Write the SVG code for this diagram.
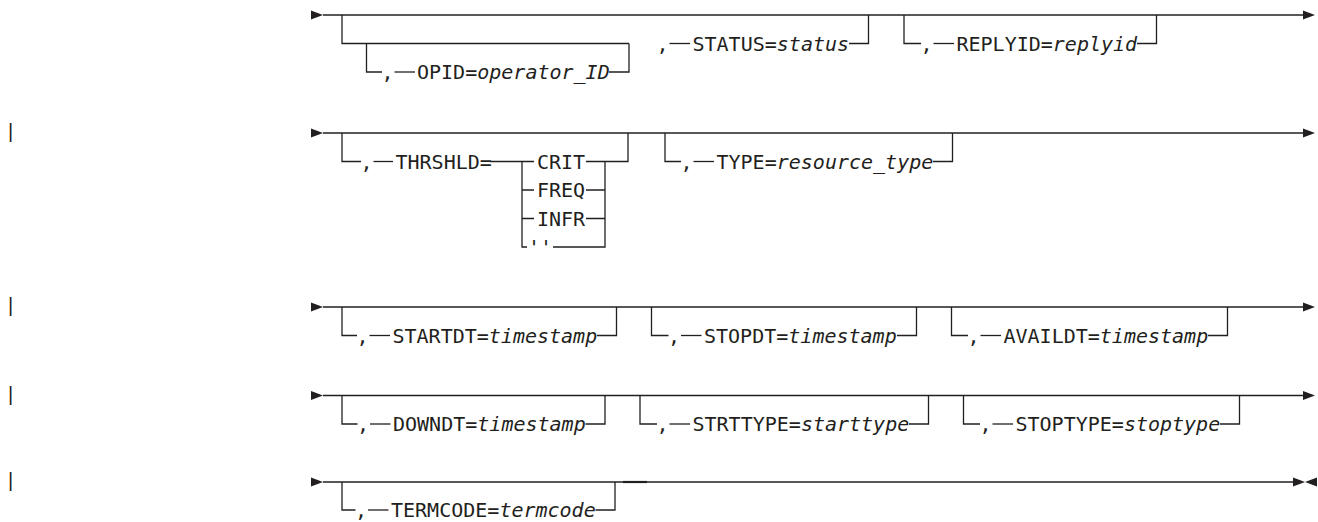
<svg xmlns="http://www.w3.org/2000/svg" width="1318" height="522" viewBox="0 0 1318 522">
<style>
.t{font-family:"DejaVu Sans Mono","Liberation Mono",monospace;font-size:20px;fill:#231f20}
.v{font-style:italic}
.l{stroke:#231f20;stroke-width:1.3;fill:none}
.a{fill:#231f20}
.bar{font-family:"Liberation Sans",Arial,sans-serif;font-size:20px;fill:#231f20}
</style>
<rect width="1318" height="522" fill="#fff"/>
<g id="revision-bars">
<text class="bar" x="10.5" y="138" text-anchor="middle">|</text>
<text class="bar" x="10.5" y="312" text-anchor="middle">|</text>
<text class="bar" x="10.5" y="400.5" text-anchor="middle">|</text>
<text class="bar" x="10.5" y="487" text-anchor="middle">|</text>
</g>
<g id="connectors">
<path class="l" d="M323,15 H1303"/>
<polygon class="a" points="311,10.5 323,15 311,19.5"/>
<polygon class="a" points="1303,10.5 1315,15 1303,19.5"/>
<path class="l" d="M323,133 H1303"/>
<polygon class="a" points="311,128.5 323,133 311,137.5"/>
<polygon class="a" points="1303,128.5 1315,133 1303,137.5"/>
<path class="l" d="M323,307 H1303"/>
<polygon class="a" points="311,302.5 323,307 311,311.5"/>
<polygon class="a" points="1303,302.5 1315,307 1303,311.5"/>
<path class="l" d="M323,395.5 H1303"/>
<polygon class="a" points="311,391 323,395.5 311,400"/>
<polygon class="a" points="1303,391 1315,395.5 1303,400"/>
<path class="l" d="M323,482 H1293"/>
<path d="M623,482 H647" stroke="#231f20" stroke-width="2.2"/>
<polygon class="a" points="311,477.5 323,482 311,486.5"/>
<polygon class="a" points="1293,477.5 1305,482 1293,486.5"/>
<polygon class="a" points="1317,477.5 1305,482 1317,486.5"/>
</g>
<g id="status">
<path class="l" d="M342,15 V43.5 H629"/>
<text class="t" x="662.5" y="50.5" text-anchor="middle">,</text>
<path class="l" d="M669.5,43.5 H690"/>
<text class="t" x="692.5" y="50.5">STATUS=<tspan class="v">status</tspan></text>
<path class="l" d="M849,43.5 H868.5 V15"/>
</g>
<g id="opid">
<path class="l" d="M366.5,43.5 V72 H382"/>
<text class="t" x="387.5" y="79" text-anchor="middle">,</text>
<path class="l" d="M394.5,72 H415"/>
<text class="t" x="417" y="79">OPID=<tspan class="v">operator_ID</tspan></text>
<path class="l" d="M609,72 H629 V43.5"/>
</g>
<g id="replyid">
<path class="l" d="M904,15 V43.5 H921"/>
<text class="t" x="926.5" y="50.5" text-anchor="middle">,</text>
<path class="l" d="M933.5,43.5 H954"/>
<text class="t" x="956.5" y="50.5">REPLYID=<tspan class="v">replyid</tspan></text>
<path class="l" d="M1137,43.5 H1156.5 V15"/>
</g>
<g id="thrshld">
<path class="l" d="M342,133 V161.5 H361"/>
<text class="t" x="366.5" y="168.5" text-anchor="middle">,</text>
<path class="l" d="M373.5,161.5 H393"/>
<text class="t" x="395.5" y="168.5">THRSHLD=</text>
<path class="l" d="M490,161.5 H534"/>
<text class="t" x="537" y="168.5">CRIT</text>
<path class="l" d="M586,161.5 H628 V133"/>
<path class="l" d="M522,161.5 V247 H527"/>
<path class="l" d="M522,190 H534 M522,218.5 H534"/>
<text class="t" x="537" y="197">FREQ</text>
<text class="t" x="537" y="225.5">INFR</text>
<text class="t" x="528" y="254">''</text>
<path class="l" d="M586,190 H605 M586,218.5 H605 M553,247 H605 V161.5"/>
</g>
<g id="type">
<path class="l" d="M665,133 V161.5 H681"/>
<text class="t" x="686.5" y="168.5" text-anchor="middle">,</text>
<path class="l" d="M693.5,161.5 H714"/>
<text class="t" x="716.5" y="168.5">TYPE=<tspan class="v">resource_type</tspan></text>
<path class="l" d="M933,161.5 H952.5 V133"/>
</g>
<g id="startdt">
<path class="l" d="M342,307 V335.5 H357"/>
<text class="t" x="362.5" y="342.5" text-anchor="middle">,</text>
<path class="l" d="M369.5,335.5 H390"/>
<text class="t" x="392.5" y="342.5">STARTDT=<tspan class="v">timestamp</tspan></text>
<path class="l" d="M597,335.5 H616.5 V307"/>
</g>
<g id="stopdt">
<path class="l" d="M651.5,307 V335.5 H668.5"/>
<text class="t" x="674" y="342.5" text-anchor="middle">,</text>
<path class="l" d="M681,335.5 H701.5"/>
<text class="t" x="704" y="342.5">STOPDT=<tspan class="v">timestamp</tspan></text>
<path class="l" d="M897,335.5 H916.5 V307"/>
</g>
<g id="availdt">
<path class="l" d="M951.5,307 V335.5 H968"/>
<text class="t" x="973.5" y="342.5" text-anchor="middle">,</text>
<path class="l" d="M980.5,335.5 H1001"/>
<text class="t" x="1003.5" y="342.5">AVAILDT=<tspan class="v">timestamp</tspan></text>
<path class="l" d="M1208,335.5 H1227.5 V307"/>
</g>
<g id="downdt">
<path class="l" d="M342,395.5 V424 H357.5"/>
<text class="t" x="363" y="431" text-anchor="middle">,</text>
<path class="l" d="M370,424 H390.5"/>
<text class="t" x="393" y="431">DOWNDT=<tspan class="v">timestamp</tspan></text>
<path class="l" d="M585.5,424 H605 V395.5"/>
</g>
<g id="strttype">
<path class="l" d="M640,395.5 V424 H657"/>
<text class="t" x="662.5" y="431" text-anchor="middle">,</text>
<path class="l" d="M669.5,424 H690"/>
<text class="t" x="692.5" y="431">STRTTYPE=<tspan class="v">starttype</tspan></text>
<path class="l" d="M909,424 H928.5 V395.5"/>
</g>
<g id="stoptype">
<path class="l" d="M963.5,395.5 V424 H980"/>
<text class="t" x="985.5" y="431" text-anchor="middle">,</text>
<path class="l" d="M992.5,424 H1013"/>
<text class="t" x="1015.5" y="431">STOPTYPE=<tspan class="v">stoptype</tspan></text>
<path class="l" d="M1220,424 H1239.5 V395.5"/>
</g>
<g id="termcode">
<path class="l" d="M342,482 V510 H355.5"/>
<text class="t" x="361" y="517" text-anchor="middle">,</text>
<path class="l" d="M368,510 H388.5"/>
<text class="t" x="391" y="517">TERMCODE=<tspan class="v">termcode</tspan></text>
<path class="l" d="M595.5,510 H615 V482"/>
</g>
</svg>
